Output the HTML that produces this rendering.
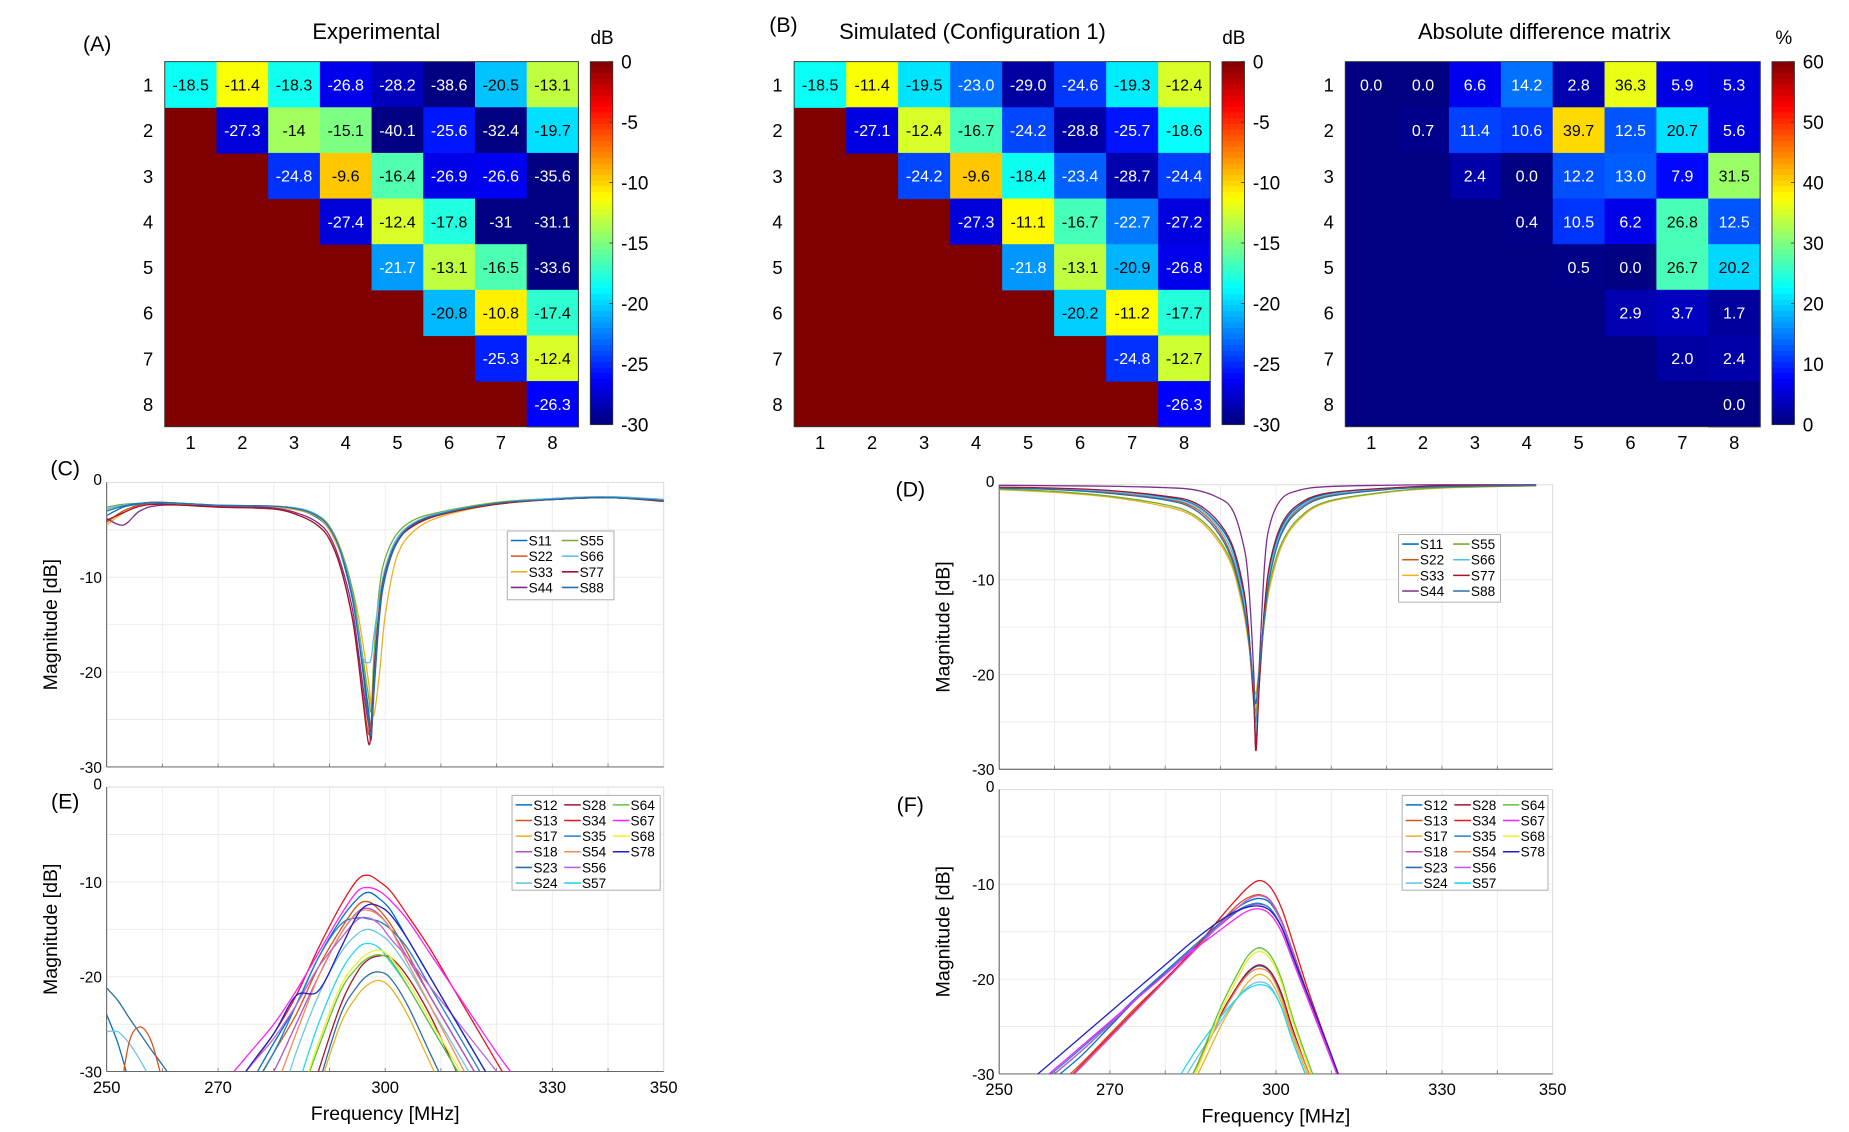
<!DOCTYPE html>
<html><head><meta charset="utf-8"><style>
html,body{margin:0;padding:0;background:#fff;width:1849px;height:1132px;overflow:hidden;}
svg{display:block;font-family:"Liberation Sans",Arial,sans-serif;}
</style></head><body>
<svg id="fig" width="1849" height="1132" viewBox="0 0 1560 955" preserveAspectRatio="none" xmlns="http://www.w3.org/2000/svg"></svg>
<script>
// ---------- heatmap data ----------
const hmLabels = [1,2,3,4,5,6,7,8];
const expVals = [
 [-18.5,-11.4,-18.3,-26.8,-28.2,-38.6,-20.5,-13.1],
 [-27.3,-14,-15.1,-40.1,-25.6,-32.4,-19.7],
 [-24.8,-9.6,-16.4,-26.9,-26.6,-35.6],
 [-27.4,-12.4,-17.8,-31,-31.1],
 [-21.7,-13.1,-16.5,-33.6],
 [-20.8,-10.8,-17.4],
 [-25.3,-12.4],
 [-26.3]];
const simVals = [
 [-18.5,-11.4,-19.5,-23.0,-29.0,-24.6,-19.3,-12.4],
 [-27.1,-12.4,-16.7,-24.2,-28.8,-25.7,-18.6],
 [-24.2,-9.6,-18.4,-23.4,-28.7,-24.4],
 [-27.3,-11.1,-16.7,-22.7,-27.2],
 [-21.8,-13.1,-20.9,-26.8],
 [-20.2,-11.2,-17.7],
 [-24.8,-12.7],
 [-26.3]];
const diffVals = [
 [0.0,0.0,6.6,14.2,2.8,36.3,5.9,5.3],
 [0.7,11.4,10.6,39.7,12.5,20.7,5.6],
 [2.4,0.0,12.2,13.0,7.9,31.5],
 [0.4,10.5,6.2,26.8,12.5],
 [0.5,0.0,26.7,20.2],
 [2.9,3.7,1.7],
 [2.0,2.4],
 [0.0]];
const dbTicks = [0,-5,-10,-15,-20,-25,-30];
const pctTicks = [60,50,40,30,20,10,0];

// ---------- line chart data ----------
const xTicks = [250,270,300,330,350];
const yTicks = [0,-10,-20,-30];
const cFreq = [250,253,256,260,270,280,285,288,290,292,294,295,296,297,297.5,298,299,300,302,305,310,320,330,340,350];
const cS11 = [-3.5,-2.6,-2.3,-2.2,-2.5,-2.6,-3,-3.8,-5,-7.5,-12,-15.5,-19.5,-24,-26.5,-22,-14,-10,-6.5,-4.5,-3.3,-2.2,-1.8,-1.6,-1.9];
const cS22 = [-4.2,-3,-2.4,-2.3,-2.6,-2.8,-3.6,-4.6,-6,-9,-14,-18,-22.5,-26.5,-25,-20,-13,-9.5,-6.3,-4.6,-3.4,-2.3,-1.8,-1.6,-1.9];
const cS33 = [-4.5,-3.2,-2.5,-2.3,-2.5,-2.6,-3,-3.7,-5,-7.5,-11,-13.5,-17,-21,-23.5,-24.5,-20,-14,-8,-5.2,-3.6,-2.3,-1.8,-1.6,-1.9];
const cS44 = [-3.8,-4.5,-3,-2.4,-2.5,-2.7,-3.4,-4.3,-5.6,-8.5,-13,-17,-21.5,-25.5,-27,-21,-13.5,-9.8,-6.4,-4.5,-3.3,-2.2,-1.8,-1.6,-1.9];
const cS55 = [-2.6,-2.3,-2.2,-2.1,-2.4,-2.5,-2.8,-3.5,-4.6,-7,-11,-14.5,-18.5,-22.5,-24,-18,-11,-8,-5.5,-4,-3.1,-2.1,-1.7,-1.5,-1.8];
const cS66 = [-2.8,-2.4,-2.2,-2.1,-2.4,-2.5,-2.8,-3.5,-4.7,-7.2,-11.5,-15,-18.5,-19,-18.5,-16,-12,-9,-6,-4.3,-3.2,-2.2,-1.7,-1.5,-1.8];
const cS77 = [-4,-3.2,-2.5,-2.3,-2.6,-2.8,-3.6,-4.6,-6,-9,-14,-18,-23,-27.5,-26,-20,-13,-9.5,-6.3,-4.6,-3.4,-2.3,-1.8,-1.6,-2];
const cS88 = [-3,-2.5,-2.2,-2.1,-2.4,-2.5,-2.9,-3.6,-4.8,-7.3,-11.8,-15.5,-20,-25,-26.5,-21,-13.5,-9.7,-6.3,-4.4,-3.3,-2.2,-1.8,-1.6,-1.9];

const dFreq = [250,260,270,280,285,289,292,294,295,296,296.4,297,298,299,301,304,309,320,330,347];
const dS11 = [-0.3,-0.4,-0.7,-1.3,-2,-3.8,-6.5,-11,-15,-22,-25,-20,-13,-8.5,-4.5,-2.3,-1,-0.4,-0.15,-0.05];
const dS22 = [-0.3,-0.45,-0.8,-1.5,-2.3,-4.3,-7.5,-12,-16,-23,-27,-21,-13.5,-9,-5,-2.6,-1.2,-0.45,-0.2,-0.05];
const dS33 = [-0.5,-0.8,-1.3,-2.3,-3.3,-5.5,-8.5,-13,-16.5,-21,-22,-19,-14,-10.5,-6.5,-3.8,-1.9,-0.8,-0.35,-0.1];
const dS44 = [-0.05,-0.1,-0.15,-0.3,-0.5,-1.2,-2.5,-6,-10,-20,-28,-19,-8,-4,-1.5,-0.6,-0.2,-0.05,0,0];
const dS55 = [-0.45,-0.7,-1.2,-2.1,-3.1,-5.2,-8.2,-12.5,-16,-21.5,-24,-20,-14,-10,-6.2,-3.6,-1.8,-0.75,-0.3,-0.1];
const dS66 = [-0.3,-0.4,-0.7,-1.4,-2.1,-4,-7,-11.5,-15.5,-22.5,-26,-20.5,-13.2,-8.8,-4.8,-2.5,-1.1,-0.4,-0.15,-0.05];
const dS77 = [-0.25,-0.35,-0.6,-1.2,-1.8,-3.5,-6.2,-10.5,-15,-23,-28,-21,-12.5,-8,-4.2,-2.1,-0.9,-0.35,-0.12,-0.04];
const dS88 = [-0.35,-0.5,-0.9,-1.6,-2.5,-4.6,-7.8,-12.3,-16,-21.5,-23,-19.5,-13.5,-9.3,-5.2,-2.8,-1.3,-0.5,-0.2,-0.06];

const eFreq = [266,270,275,280,284,288,292,295,297,299,301,304,308,312,316,320,325];
const eS12 = [-40,-36,-32,-27,-23,-18,-14,-11.8,-11.1,-11.8,-13,-16,-20,-24,-28,-32,-37];
const eS13 = [-42,-38,-33,-28,-24,-19,-15,-12.5,-12.1,-13,-14.5,-17.5,-22,-26,-30,-34,-38];
const eS17 = [-60,-55,-50,-45,-40,-32,-25,-22,-20.8,-20.4,-21.2,-24,-29,-34,-39,-44,-50];
const eS18 = [-44,-40,-35,-30,-25,-20,-15.5,-13.2,-12.8,-13.5,-15,-18,-22,-26,-30,-34,-38];
const eS23 = [-60,-55,-50,-45,-40,-31.5,-24,-21,-19.8,-19.5,-20.2,-23,-28,-33,-38,-43,-49];
const eS24 = [-50,-45,-40,-35,-28,-22,-17.5,-15.5,-15,-15.5,-16.5,-19,-23,-27,-31,-35,-40];
const eS28 = [-60,-55,-50,-44,-38,-30,-23,-19.5,-18.2,-17.8,-18,-20,-24,-29,-34,-39,-45];
const eS34 = [-38,-34,-30,-26,-22,-17,-12.5,-9.8,-9.3,-10,-11,-13.5,-17,-21,-25,-29,-34];
const eS35 = [-42,-38,-33,-28,-23,-18,-14.5,-13.8,-13.9,-14.2,-15,-17,-21,-25,-29,-33,-38];
const eS54 = [-46,-42,-37,-32,-26,-20,-15.5,-13.3,-13,-13.6,-15,-18.5,-23,-27.5,-32,-36,-41];
const eS56 = [-38,-34,-30,-26.5,-23,-19,-16,-14,-13.8,-14.5,-16,-18,-21,-24,-27,-30,-34];
const eS57 = [-55,-50,-45,-38,-32,-25,-19.5,-17,-16.5,-17,-18.5,-21,-25,-29,-33,-37,-42];
const eS64 = [-55,-50,-45,-40,-34,-27.5,-21.5,-19,-18,-17.7,-18.3,-21,-25,-29,-33,-37,-42];
const eS67 = [-35,-32,-28.5,-25,-21.5,-17.5,-13.5,-11,-10.6,-11,-12,-14,-17.5,-21,-24.5,-28,-32];
const eS68 = [-55,-50,-45,-40,-34,-27,-21,-18.5,-17.5,-17.2,-18,-20.5,-24.5,-28.5,-32.5,-37,-42];
const eS78 = [-40,-35,-30,-26,-22,-21.5,-17,-13.5,-12.4,-12.6,-13.5,-16,-20,-24,-28,-32,-37];
const eLowFreq = [250,252,254,256,258,260,262];
const eLowA = [-21.2,-22.5,-24.3,-26,-27.7,-29.3,-31];
const eLowB = [-24,-27,-31,-35,-38,-40,-42];
const eLowC = [-25.8,-25.8,-27,-28.8,-31,-34,-37];
const eLowD = [-40,-34,-27,-25.3,-26.8,-31,-36];

const fFreq = [255,260,265,270,275,280,285,290,293,295,297,299,301,303,306,310,315];
const fS12 = [-33,-30.5,-28,-25,-22,-19.3,-16.6,-14,-12.5,-11.8,-11.5,-12,-14,-17,-22,-28,-36];
const fS13 = [-34,-31.5,-28.8,-25.8,-22.8,-20,-17,-14,-12.2,-11.4,-11.1,-11.7,-13.8,-17,-22,-28,-36];
const fS17 = [-60,-55,-50,-45,-40,-35,-31,-25,-22,-20.3,-19.5,-20.2,-22.5,-26,-30.5,-36,-43];
const fS18 = [-32.5,-30,-27.5,-24.8,-22,-19.5,-16.8,-14.3,-12.9,-12.3,-12.1,-12.6,-14.5,-17.5,-22.3,-28.3,-36];
const fS23 = [-60,-55,-50,-45,-40,-34.5,-30,-24,-21,-19.3,-18.6,-19.3,-21.8,-25.5,-30,-35.5,-42];
const fS24 = [-60,-55,-50,-45,-40,-34,-29,-24.5,-22,-20.8,-20.3,-20.8,-23,-26.5,-31,-36.5,-43];
const fS28 = [-60,-55,-50,-45,-40,-34.5,-30,-23.8,-20.8,-19.2,-18.5,-19.2,-21.5,-25.2,-30,-35.5,-42];
const fS34 = [-35,-32,-29,-26,-23,-20,-17,-13.5,-11.5,-10.3,-9.6,-10.3,-12.5,-16,-21.5,-28,-36];
const fS35 = [-32,-29.7,-27.2,-24.6,-21.8,-19.2,-16.6,-14.1,-12.8,-12.2,-12,-12.6,-14.5,-17.6,-22.3,-28.3,-36];
const fS54 = [-60,-55,-50,-45,-40,-34.5,-30,-24,-21,-19.5,-18.9,-19.5,-22,-25.6,-30,-35.5,-42];
const fS56 = [-34.5,-32,-29.2,-26.2,-23.2,-20.2,-17.2,-14.2,-12.5,-11.6,-11.2,-11.8,-14,-17.2,-22.2,-28.2,-36];
const fS57 = [-60,-55,-50,-45,-39,-33,-28,-24,-22,-21,-20.6,-21,-23,-26.5,-31,-36.5,-43];
const fS64 = [-60,-55,-50,-45,-40,-35,-30,-23,-19.5,-17.5,-16.7,-17.5,-20,-24,-29,-35,-42];
const fS67 = [-32,-29.5,-27,-24.5,-22,-19.5,-17,-14.8,-13.5,-12.8,-12.6,-13.2,-15,-18,-22.5,-28.5,-36];
const fS68 = [-60,-55,-50,-45,-40,-35,-30.5,-23.5,-20,-17.9,-17.1,-17.9,-20.4,-24.4,-29.4,-35.4,-42];
const fS78 = [-31,-28.5,-26,-23.5,-21,-18.5,-16,-13.8,-12.8,-12.4,-12.3,-12.8,-14.5,-17.5,-22,-28,-36];

// ---------- helpers ----------
const NS = "http://www.w3.org/2000/svg";
const svg = document.getElementById('fig');
function mk(tag, attrs, parent){
  const e = document.createElementNS(NS, tag);
  for (const k in attrs) e.setAttribute(k, attrs[k]);
  (parent||svg).appendChild(e);
  return e;
}
function txt(s, x, y, size, anchor, parent, extra){
  const t = mk('text', Object.assign({x:x, y:y, 'font-size':size, 'text-anchor':anchor||'middle', fill:'#000'}, extra||{}), parent);
  t.textContent = s;
  return t;
}
function jet(t){
  t = Math.max(0, Math.min(1, t));
  const r = Math.max(0, Math.min(1, 1.5 - Math.abs(4*t - 3)));
  const g = Math.max(0, Math.min(1, 1.5 - Math.abs(4*t - 2)));
  const b = Math.max(0, Math.min(1, 1.5 - Math.abs(4*t - 1)));
  return [r*255, g*255, b*255];
}
function rgb(c){ return 'rgb(' + c.map(Math.round).join(',') + ')'; }

function heatmap(opts){
  const g = mk('g', {});
  
  
  const x0 = opts.x, y0 = opts.y, W = opts.w, H = opts.h;
  const cw = W/8, ch = H/8;
  const sx = i => x0 + i*cw;
  const sy = j => y0 + j*ch;
  const norm = v => (v - opts.vmin)/(opts.vmax - opts.vmin);
  const bg = mk('rect', {x:x0, y:y0, width:W, height:H, fill:rgb(jet(norm(opts.fillVal)))}, g);
  
  
  opts.vals.forEach((row, r) => {
    row.forEach((v, k) => {
      const c = r + k;
      const col = jet(norm(v));
      const cell = mk('rect', {x:sx(c), y:sy(r), width:cw+0.5, height:ch+0.5, fill:rgb(col)}, g);
      
      
      const lum = 0.299*col[0] + 0.587*col[1] + 0.114*col[2];
      const t = txt(opts.fmt(v), sx(c)+cw/2, sy(r)+ch/2+5, 13.5, 'middle', g, {fill: lum > 120 ? '#000' : '#fff'});
      
      
    });
  });
  mk('rect', {x:x0, y:y0, width:W, height:H, fill:'none', stroke:'#333', 'stroke-width':0.8}, g);
  hmLabels.forEach((lab, i) => {
    const a = txt(String(lab), sx(i)+cw/2, y0+H+19, 15.5, 'middle', g);
    
    
    const b = txt(String(lab), x0-14, sy(i)+ch/2+6, 15.5, 'middle', g);
    
    
  });
  const cb = mk('g', {}, svg);
  
  
  const steps = 64, cbx = opts.cbx, cby = y0, cbh = H - 2, cbw = 19;
  for (let i = 0; i < steps; i++){
    const t = 1 - i/steps;
    mk('rect', {x:cbx, y:cby + i*cbh/steps, width:cbw, height:cbh/steps+0.6, fill:rgb(jet(t - 0.5/steps))}, cb);
  }
  mk('rect', {x:cbx, y:cby, width:cbw, height:cbh, fill:'none', stroke:'#333', 'stroke-width':0.7}, cb);
  const cy = v => cby + (1 - norm(v))*cbh;
  opts.ticks.forEach(v => {
    mk('line', {x1:cbx+cbw, x2:cbx+cbw-3, y1:cy(v), y2:cy(v), stroke:'#333', 'stroke-width':0.7}, cb);
    const tl = txt(String(v), cbx+cbw+7, cy(v)+6, 16, 'start', cb);
    
    
  });
  const un = txt(opts.unit, cbx+10, 37, 16, 'middle', cb);
  
  
  const ti = txt(opts.title, x0 + W/2 + (opts.titleDx||0), 33, 18.5, 'middle', g);
  
  
}

heatmap({name:'experimental-heatmap', x:139, y:52, w:349, h:308, vals:expVals, vmin:-30, vmax:0, fillVal:0, fmt:v=>String(v), cbx:498, ticks:dbTicks, unit:'dB', title:'Experimental', titleDx:4});
heatmap({name:'simulated-heatmap', x:670, y:52, w:351, h:308, vals:simVals, vmin:-30, vmax:0, fillVal:0, fmt:v=>v.toFixed(1), cbx:1031, ticks:dbTicks, unit:'dB', title:'Simulated (Configuration 1)', titleDx:-25});
heatmap({name:'difference-heatmap', x:1135, y:52, w:350, h:308, vals:diffVals, vmin:0, vmax:60, fillVal:0, fmt:v=>v.toFixed(1), cbx:1495, ticks:pctTicks, unit:'%', title:'Absolute difference matrix', titleDx:-7});

[['(A)',82,43],['(B)',661,27],['(C)',55,401],['(D)',768,419],['(E)',55,682],['(F)',768,685]].forEach(p => {
  const t = txt(p[0], p[1], p[2], 18, 'middle');
  
  
});

// ---------- line plots ----------
function smoothPath(pts){
  let d = 'M' + pts[0][0].toFixed(2) + ',' + pts[0][1].toFixed(2);
  for (let i = 0; i < pts.length - 1; i++){
    const p0 = pts[Math.max(0, i-1)], p1 = pts[i], p2 = pts[i+1], p3 = pts[Math.min(pts.length-1, i+2)];
    const c1 = [p1[0] + (p2[0]-p0[0])/6, p1[1] + (p2[1]-p0[1])/6];
    const c2 = [p2[0] - (p3[0]-p1[0])/6, p2[1] - (p3[1]-p1[1])/6];
    d += 'C' + c1[0].toFixed(2) + ',' + c1[1].toFixed(2) + ' ' + c2[0].toFixed(2) + ',' + c2[1].toFixed(2) + ' ' + p2[0].toFixed(2) + ',' + p2[1].toFixed(2);
  }
  return d;
}
let clipId = 0;
function linePlot(o){
  const g = mk('g', {});
  
  
  const xs = f => o.x0 + (f - 250)/(100)*(o.x1 - o.x0);
  const ys = v => o.y0 + (0 - v)/30*(o.y1 - o.y0);
  mk('rect', {x:o.x0, y:o.y0, width:o.x1-o.x0, height:o.y1-o.y0, fill:'#fff', stroke:'#d8d8d8', 'stroke-width':0.8}, g);
  for (let f = 260; f < 350; f += 10){
    mk('line', {x1:xs(f), x2:xs(f), y1:o.y0, y2:o.y1, stroke:'#ebebeb', 'stroke-width':0.8}, g);
    mk('line', {x1:xs(f), x2:xs(f), y1:o.y1, y2:o.y1-3, stroke:'#777', 'stroke-width':0.7}, g);
  }
  for (let v = -5; v > -30; v -= 5){
    mk('line', {x1:o.x0, x2:o.x1, y1:ys(v), y2:ys(v), stroke:'#ebebeb', 'stroke-width':0.8}, g);
  }
  mk('line', {x1:o.x0, x2:o.x0, y1:o.y0, y2:o.y1, stroke:'#555', 'stroke-width':0.8}, g);
  mk('line', {x1:o.x0, x2:o.x1, y1:o.y1, y2:o.y1, stroke:'#555', 'stroke-width':0.8}, g);
  const id = 'clip' + (clipId++);
  const cp = mk('clipPath', {id:id}, g);
  mk('rect', {x:o.x0, y:o.y0-2, width:o.x1-o.x0, height:o.y1-o.y0+2}, cp);
  const lg = mk('g', {'clip-path':'url(#' + id + ')'}, g);
  o.series.forEach(s => {
    const pts = s.f.map((f, i) => [xs(f), ys(s.v[i])]);
    const p = mk('path', {d:smoothPath(pts), fill:'none', stroke:s.c, 'stroke-width':s.w||1.1}, lg);
    
    
  });
  yTicks.forEach(v => {
    const t = txt(String(v), o.x0-4, ys(v)+ (v===0?2:5), 13, 'end', g);
    
    
  });
  if (o.xlabels){
    xTicks.forEach(f => {
      const t = txt(String(f), xs(f), o.y1+18, 14, 'middle', g);
      
      
    });
    const xl = txt('Frequency [MHz]', (o.x0+o.x1)/2, o.y1+41, 16.5, 'middle', g);
    
    
  }
  const ycx = o.x0 - 42, ycy = (o.y0+o.y1)/2;
  const yl = txt('Magnitude [dB]', ycx, ycy, 16.5, 'middle', g, {transform:'rotate(-90 ' + ycx + ' ' + ycy + ')'});
  
  
  const L = o.legend;
  const lgd = mk('g', {}, g);
  
  
  mk('rect', {x:L.x, y:L.y, width:L.w, height:L.h, fill:'#fff', stroke:'#aaa', 'stroke-width':0.8}, lgd);
  L.items.forEach((it, i) => {
    const col = Math.floor(i / L.rows), row = i % L.rows;
    const ex = L.x + 3 + col*L.colW, ey = L.y + 8 + row*13.2;
    mk('line', {x1:ex, x2:ex+14, y1:ey, y2:ey, stroke:it.c, 'stroke-width':1.3}, lgd);
    const t = txt(it.n, ex+15, ey+4.2, 11.5, 'start', lgd);
    
    
  });
}
const C1='#0072BD',C2='#D95319',C3='#EDB120',C4='#7E2F8E',C5='#77AC30',C6='#4DBEEE',C7='#A2142F';
const cSeries = [
 {n:'S11',f:cFreq,v:cS11,c:C1},{n:'S22',f:cFreq,v:cS22,c:C2},{n:'S33',f:cFreq,v:cS33,c:C3},{n:'S44',f:cFreq,v:cS44,c:C4},
 {n:'S55',f:cFreq,v:cS55,c:C5},{n:'S66',f:cFreq,v:cS66,c:C6},{n:'S77',f:cFreq,v:cS77,c:C7},{n:'S88',f:cFreq,v:cS88,c:'#2a6fa8'}];
const dSeries = [
 {n:'S11',f:dFreq,v:dS11,c:C1},{n:'S22',f:dFreq,v:dS22,c:C2},{n:'S33',f:dFreq,v:dS33,c:C3},{n:'S44',f:dFreq,v:dS44,c:C4},
 {n:'S55',f:dFreq,v:dS55,c:C5},{n:'S66',f:dFreq,v:dS66,c:C6},{n:'S77',f:dFreq,v:dS77,c:C7},{n:'S88',f:dFreq,v:dS88,c:'#2a6fa8'}];
const pairCols = {S12:'#0072BD',S13:'#D95319',S17:'#EDB120',S18:'#b050c8',S23:'#2a6fa8',S24:'#6cc6e8',
  S28:'#A2142F',S34:'#e8141e',S35:'#1f7fd0',S54:'#f08a5a',S56:'#c060e0',S57:'#20d8f0',
  S64:'#60c040',S67:'#ff20ff',S68:'#f0f020',S78:'#2020c0'};
const pairNames = ['S12','S13','S17','S18','S23','S24','S28','S34','S35','S54','S56','S57','S64','S67','S68','S78'];
const eVals = [eS12,eS13,eS17,eS18,eS23,eS24,eS28,eS34,eS35,eS54,eS56,eS57,eS64,eS67,eS68,eS78];
const fVals = [fS12,fS13,fS17,fS18,fS23,fS24,fS28,fS34,fS35,fS54,fS56,fS57,fS64,fS67,fS68,fS78];
const eSeries = pairNames.map((n,i) => ({n:n, f:eFreq, v:eVals[i], c:pairCols[n]}));
eSeries.push({n:'S12-low',f:eLowFreq,v:eLowA,c:'#2a6fa8'},{n:'S23-low',f:eLowFreq,v:eLowB,c:'#0072BD'},
  {n:'S24-low',f:eLowFreq,v:eLowC,c:'#6cc6e8'},{n:'S13-low',f:eLowFreq,v:eLowD,c:'#D95319'});
const fSeries = pairNames.map((n,i) => ({n:n, f:fFreq, v:fVals[i], c:pairCols[n]}));
const legendC = {x:428,y:448,w:90,h:58,rows:4,colW:43,items:cSeries};
const legendD = {x:1180,y:451,w:86,h:57,rows:4,colW:43,items:dSeries};
const legendE = {x:432,y:671,w:125,h:80,rows:6,colW:41,items:pairNames.map(n=>({n:n,c:pairCols[n]}))};
const legendF = {x:1183,y:671,w:123,h:80,rows:6,colW:41,items:pairNames.map(n=>({n:n,c:pairCols[n]}))};

linePlot({name:'plot-c-measured-reflection', x0:90, x1:560, y0:407, y1:647, series:cSeries, legend:legendC, xlabels:false});
linePlot({name:'plot-d-simulated-reflection', x0:843, x1:1310, y0:409, y1:649, series:dSeries, legend:legendD, xlabels:false});
linePlot({name:'plot-e-measured-coupling', x0:90, x1:560, y0:664, y1:904, series:eSeries, legend:legendE, xlabels:true});
linePlot({name:'plot-f-simulated-coupling', x0:843, x1:1310, y0:666, y1:906, series:fSeries, legend:legendF, xlabels:true});
</script>
</body></html>
